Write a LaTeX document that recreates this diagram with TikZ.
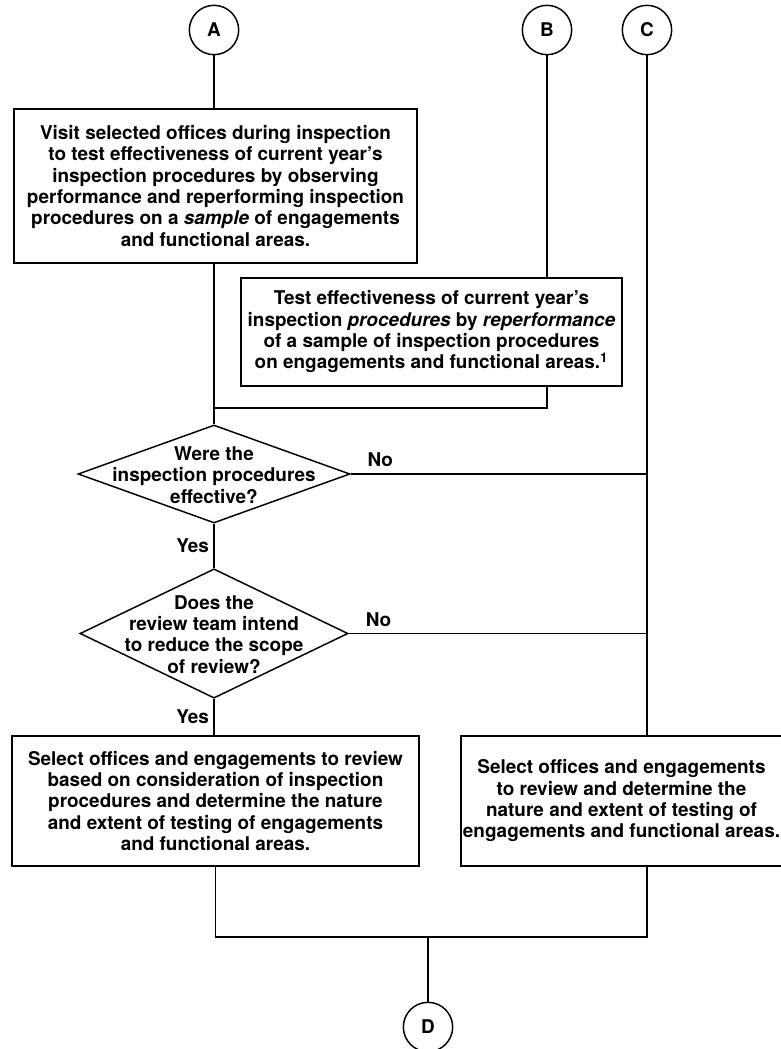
\documentclass[tikz,border=0pt]{standalone}
\usepackage{fontspec}
\setmainfont{TeX Gyre Heros}
\usetikzlibrary{shapes.geometric, calc}

% text of a decision: takes no room, so the diamond keeps its own size
\newcommand{\dtext}[1]{\makebox[0pt]{\smash{\raisebox{-6.2pt}{\begin{tabular}{@{}c@{}}#1\end{tabular}}}}}

\begin{document}
\begin{tikzpicture}[x=0.75pt, y=-0.75pt, line width=1.1pt,
  every node/.style={font=\fontsize{14.2}{16}\selectfont\bfseries},
  box/.style={draw, align=center, inner sep=0pt},
  decision/.style={draw, diamond, inner sep=0pt},
  offpage/.style={draw, circle, minimum size=37pt, inner sep=0pt}]
  \path[use as bounding box, fill=white] (0,0) rectangle (781,1049);
  \node[offpage] (A) at (214,30) {A};
  \node[offpage] (B) at (547,30) {B};
  \node[offpage] (C) at (647,30) {C};
  \node[offpage] (D) at (428,1027) {D};
  \node[box, minimum width=302pt, minimum height=115.5pt] (visit) at (215.5,186) {Visit selected offices during inspection\\ to test effectiveness of current year's\\ inspection procedures by observing\\ performance and reperforming inspection\\ procedures on a \textit{sample} of engagements\\ and functional areas.};
  \node[box, minimum width=286pt, minimum height=81pt] (retest) at (431.5,332) {Test effectiveness of current year's\\ inspection \textit{procedures} by \textit{reperformance}\\ of a sample of inspection procedures\\ on engagements and functional areas.\textsuperscript{1}};
  \node[decision, minimum width=204pt, minimum height=73.5pt] (effective) at (214,474) {\dtext{Were the\\ inspection procedures\\ effective?}};
  \node[decision, minimum width=201pt, minimum height=97pt] (reduce) at (214,633.5) {\dtext{Does the\\ review team intend\\ to reduce the scope\\ of review?}};
  \node[box, minimum width=305pt, minimum height=97.5pt] (selectA) at (215.5,801) {Select offices and engagements to review\\ based on consideration of inspection\\ procedures and determine the nature\\ and extent of testing of engagements\\ and functional areas.};
  \node[box, minimum width=241pt, minimum height=97.5pt] (selectB) at (621.5,801) {Select offices and engagements\\ to review and determine the\\ nature and extent of testing of\\ engagements and functional areas.};
  \coordinate (merge) at (214,408);
  \coordinate (join) at (428,937);
  \draw (A) -- (A |- visit.north);
  \draw (effective.north |- visit.south) -- (effective.north);
  \draw (B) -- (B |- retest.north);
  \draw (B |- retest.south) |- (merge);
  \draw (C) -- (C |- selectB.north);
  \draw (effective.east) -- (effective.east -| C) node[pos=0.1, above=1.5pt] {No};
  \draw (effective.south) -- (reduce.north) node[midway, left] {Yes};
  \draw (reduce.east) -- (reduce.east -| C) node[pos=0.1, above=1.5pt] {No};
  \draw (reduce.south) -- (reduce.south |- selectA.north) node[midway, left] {Yes};
  \draw (selectA.south) |- (join) -| (C |- selectB.south);
  \draw (join) -- (D);
\end{tikzpicture}
\end{document}
